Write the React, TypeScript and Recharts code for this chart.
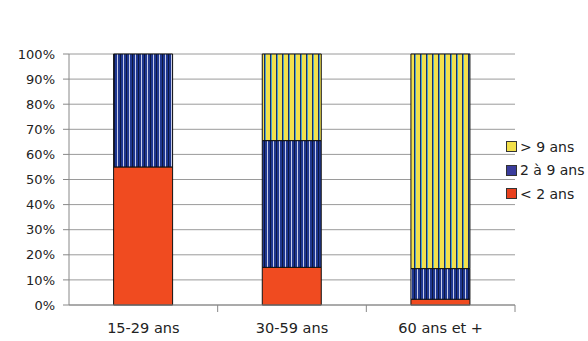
import { BarChart, Bar, XAxis, YAxis, CartesianGrid } from 'recharts'

const categories = ['15-29 ans', '30-59 ans', '60 ans et +']
const moinsDe2 = [55, 15, 2.3]
const de2a9 = [45, 50.5, 12.2]
const plusDe9 = [0, 34.5, 85.5]
const yTicks = [0, 10, 20, 30, 40, 50, 60, 70, 80, 90, 100]

const series = [
  { key: 'plus9', name: '> 9 ans', swatch: '#f2e04a' },
  { key: 'de2a9', name: '2 à 9 ans', swatch: '#3a3c9c' },
  { key: 'moins2', name: '< 2 ans', swatch: '#e8401e' },
]

const data = categories.map((c, i) => ({
  name: c,
  moins2: moinsDe2[i],
  de2a9: de2a9[i],
  plus9: plusDe9[i],
}))

const font = '"DejaVu Sans", Verdana, sans-serif'

const CategoryTick = (props: any) => {
  const { x, y, payload, width, visibleTicksCount } = props
  const band = width / visibleTicksCount
  return (
    <g>
      <line x1={x + band / 2} x2={x + band / 2} y1={y - 8} y2={y - 1} stroke="#888" />
      <text x={x} y={y + 20} textAnchor="middle" fontSize={14.5} fill="#222" fontFamily={font}>
        {payload.value}
      </text>
    </g>
  )
}

// legend drawn outside the chart so it doesn't shrink the plot
const LegendBox = () => (
  <div
    style={{
      position: 'absolute',
      left: 506,
      top: 135,
      fontFamily: font,
      fontSize: 14,
      color: '#222',
      whiteSpace: 'nowrap',
    }}
  >
    {series.map((s) => (
      <div key={s.key} style={{ display: 'flex', alignItems: 'center', height: 23.5 }}>
        <span
          style={{
            display: 'inline-block',
            width: 9,
            height: 9,
            background: s.swatch,
            border: '1px solid #333',
            marginRight: 3,
          }}
        />
        {s.name}
      </div>
    ))}
  </div>
)

export default function App() {
  return (
    <div style={{ position: 'absolute', left: 0, top: 0, width: 588, height: 341, background: '#fff', overflow: 'hidden' }}>
      <BarChart
        width={588}
        height={341}
        data={data}
        margin={{ top: 54, right: 73, bottom: 6, left: 9 }}
        barCategoryGap="30%"
      >
        <defs>
          <pattern id="blueStripes" patternUnits="userSpaceOnUse" width={6} height={6}>
            <rect width={6} height={6} fill="#1f3790" />
            <rect x={0} width={1} height={6} fill="#0e1740" />
            <rect x={3} width={1} height={6} fill="#c9cde8" />
          </pattern>
          <pattern id="yellowStripes" patternUnits="userSpaceOnUse" width={6} height={6}>
            <rect width={6} height={6} fill="#f3e04c" />
            <rect x={0} width={1} height={6} fill="#1d2b6a" />
            <rect x={1} width={1} height={6} fill="#4aa6c4" />
          </pattern>
        </defs>
        <CartesianGrid vertical={false} stroke="#9a9a9a" />
        <XAxis
          dataKey="name"
          height={30}
          stroke="#888"
          tickLine={false}
          tick={<CategoryTick />}
          interval={0}
        />
        <YAxis
          width={60}
          domain={[0, 100]}
          ticks={yTicks}
          tickFormatter={(v) => `${v}%`}
          stroke="#888"
          tickSize={6}
          tick={{ fontSize: 13, fill: '#222', fontFamily: font, dx: -6 }}
          interval={0}
        />
        <Bar dataKey="moins2" name="< 2 ans" stackId="a" fill="#f04b20" stroke="#111" isAnimationActive={false} />
        <Bar dataKey="de2a9" name="2 à 9 ans" stackId="a" fill="url(#blueStripes)" stroke="#111" isAnimationActive={false} />
        <Bar dataKey="plus9" name="> 9 ans" stackId="a" fill="url(#yellowStripes)" stroke="#111" isAnimationActive={false} />
      </BarChart>
      <LegendBox />
    </div>
  )
}
